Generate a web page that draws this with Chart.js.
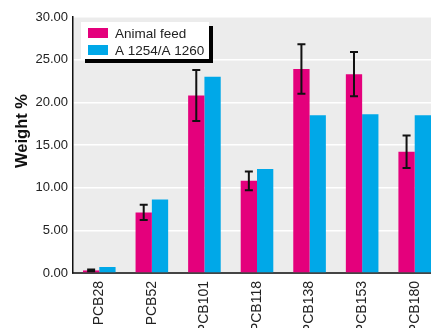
<!DOCTYPE html>
<html>
<head>
<meta charset="utf-8">
<script src="https://cdn.jsdelivr.net/npm/chart.js@4.4.1/dist/chart.umd.min.js"></script>
<style>
  html, body { margin: 0; padding: 0; background: #fff; overflow: hidden; }
  #wrap { position: relative; width: 441px; height: 328px; }
</style>
</head>
<body>
<div id="wrap"><canvas id="pcbChart"></canvas></div>
<script>
// PCB congener profile, weight % per congener
const congeners = ['PCB28', 'PCB52', 'PCB101', 'PCB118', 'PCB138', 'PCB153', 'PCB180'];
const feedValues = [0.3, 7.1, 20.8, 10.8, 23.9, 23.3, 14.2];
const feedErrors = [0.1, 0.9, 3.0, 1.1, 2.9, 2.6, 1.9];
const aroclorValues = [0.7, 8.6, 23.0, 12.2, 18.5, 18.6, 18.5];
const yTicks = [0, 5, 10, 15, 20, 25, 30];

const MAGENTA = '#e4007c';
const CYAN = '#00a8e8';

// grey plotting area behind the bars
const plotBackground = {
    id: 'plotBackground',
    beforeDraw(chart) {
        const { ctx, chartArea: a } = chart;
        ctx.save();
        ctx.fillStyle = '#ececec';
        ctx.fillRect(a.left, a.top, a.right - a.left, a.bottom - a.top);
        ctx.restore();
    }
};

// +/- error bars on the animal feed series
const errorBars = {
    id: 'errorBars',
    afterDatasetsDraw(chart) {
        const { ctx } = chart;
        const y = chart.scales.y;
        const meta = chart.getDatasetMeta(0);
        ctx.save();
        ctx.strokeStyle = '#111';
        ctx.lineWidth = 2;
        feedErrors.forEach((err, i) => {
            const bar = meta.data[i];
            const top = y.getPixelForValue(feedValues[i] + err);
            const bot = y.getPixelForValue(Math.max(0, feedValues[i] - err));
            ctx.beginPath();
            ctx.moveTo(bar.x, top);
            ctx.lineTo(bar.x, bot);
            ctx.moveTo(bar.x - 4, top);
            ctx.lineTo(bar.x + 4, top);
            ctx.moveTo(bar.x - 4, bot);
            ctx.lineTo(bar.x + 4, bot);
            ctx.stroke();
        });
        ctx.restore();
    }
};

// boxed legend with a hard black shadow, plus the rotated axis title
const boxLegend = {
    id: 'boxLegend',
    afterDraw(chart) {
        const { ctx } = chart;
        const x = 81, y = 22, w = 128, h = 37;
        ctx.save();
        ctx.fillStyle = '#000';
        ctx.fillRect(x + 4, y + 4, w, h);
        ctx.fillStyle = '#fff';
        ctx.fillRect(x, y, w, h);
        ctx.font = '13.5px "Liberation Sans", Arial, sans-serif';
        ctx.textBaseline = 'middle';
        chart.data.datasets.forEach((ds, i) => {
            const rowY = y + 11 + i * 17;
            ctx.fillStyle = ds.backgroundColor;
            ctx.fillRect(x + 7, rowY - 5, 20, 10);
            ctx.fillStyle = '#222';
            ctx.fillText(ds.label, x + 34, rowY + 1);
        });

        ctx.translate(22, 131);
        ctx.rotate(-Math.PI / 2);
        ctx.font = 'bold 16.5px "Liberation Sans", Arial, sans-serif';
        ctx.textAlign = 'center';
        ctx.fillStyle = '#111';
        ctx.fillText('Weight %', 0, 0);
        ctx.restore();
    }
};

new Chart(document.getElementById('pcbChart'), {
    type: 'bar',
    data: {
        labels: congeners,
        datasets: [
            { label: 'Animal feed', data: feedValues, backgroundColor: MAGENTA },
            { label: 'A 1254/A 1260', data: aroclorValues, backgroundColor: CYAN }
        ]
    },
    options: {
        responsive: true,
        maintainAspectRatio: false,
        animation: false,
        layout: { padding: { top: 17, right: 0, bottom: 0, left: 0 } },
        datasets: {
            bar: { categoryPercentage: 0.62, barPercentage: 1.0 }
        },
        plugins: {
            legend: { display: false },
            tooltip: { enabled: false }
        },
        scales: {
            x: {
                afterFit(scale) { scale.height = 55; },
                grid: { display: false, drawTicks: false },
                border: { display: true, color: '#444', width: 2 },
                ticks: {
                    minRotation: 90,
                    maxRotation: 90,
                    padding: 8,
                    color: '#222',
                    font: { family: '"Liberation Sans", Arial, sans-serif', size: 14 }
                }
            },
            y: {
                min: 0,
                max: 30,
                afterFit(scale) { scale.width = 73; },
                afterBuildTicks(scale) { scale.ticks = yTicks.map(v => ({ value: v })); },
                grid: { color: '#ffffff', lineWidth: 1.5, drawTicks: false },
                border: { display: true, color: '#111', width: 1.5 },
                ticks: {
                    padding: 5,
                    color: '#222',
                    font: { family: '"Liberation Sans", Arial, sans-serif', size: 13 },
                    callback: v => v.toFixed(2)
                }
            }
        }
    },
    plugins: [plotBackground, errorBars, boxLegend]
});
</script>
</body>
</html>
